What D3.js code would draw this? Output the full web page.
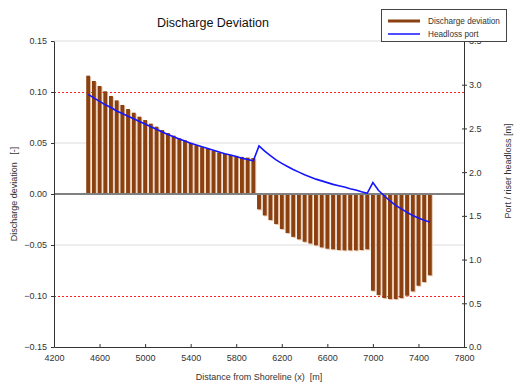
<!DOCTYPE html>
<html><head><meta charset="utf-8">
<script src="https://cdn.jsdelivr.net/npm/d3@7/dist/d3.min.js"></script>
<style>
body{margin:0;background:#fff;}
svg{display:block;font-family:"Liberation Sans",Arial,sans-serif;}
text{white-space:pre;}
</style></head>
<body><svg id="c" width="518" height="388"></svg>
<script>
// ---- data ----
const distances = d3.range(4500, 7501, 50);
const dischargeDeviation = [
 0.116,0.1108,0.1059,0.1007,0.0961,0.0918,0.0873,0.0833,0.0797,0.0758,
 0.0725,0.0690,0.0660,0.0627,0.0598,0.0572,0.0546,0.0526,0.0502,0.0478,
 0.0459,0.0442,0.0424,0.0407,0.0394,0.0383,0.0374,0.0364,0.0357,0.0353,
 -0.0150,-0.0210,-0.0255,-0.0294,-0.0343,-0.0382,-0.0420,-0.0444,-0.0468,-0.0485,
 -0.0503,-0.0523,-0.0536,-0.0542,-0.0549,-0.0552,-0.0552,-0.0552,-0.0549,-0.0542,
 -0.0948,-0.0990,-0.1020,-0.1030,-0.1030,-0.1020,-0.0997,-0.0954,-0.0899,-0.0863,-0.0797
];
const headlossPort = [
 2.89,2.85,2.81,2.77,2.74,2.70,2.67,2.64,2.61,2.58,
 2.55,2.52,2.49,2.46,2.43,2.405,2.38,2.355,2.33,2.31,
 2.29,2.27,2.25,2.23,2.21,2.195,2.18,2.16,2.145,2.13,
 2.30,2.24,2.19,2.14,2.10,2.065,2.03,2.00,1.97,1.945,
 1.92,1.90,1.88,1.86,1.845,1.83,1.81,1.795,1.775,1.757,
 1.88,1.79,1.73,1.67,1.62,1.58,1.54,1.505,1.475,1.45,1.43
];
const xTicks = [4200,4600,5000,5400,5800,6200,6600,7000,7400,7800];
const yLeftTicks = [-0.15,-0.10,-0.05,0.00,0.05,0.10,0.15];
const yRightTicks = [0.0,0.5,1.0,1.5,2.0,2.5,3.0,3.5];
const limitLines = [0.10,-0.10];
const gridLines = [0.15,0.05,-0.05];

const svg = d3.select("#c");
const L=54, R=464, T=41, B=347;
const x = d3.scaleLinear().domain([4200,7800]).range([L,R]);
const yL = d3.scaleLinear().domain([-0.15,0.15]).range([B,T]);
const yR = d3.scaleLinear().domain([0,3.5]).range([B,T]);

// grid
svg.selectAll(".g").data(gridLines).enter().append("line")
  .attr("x1",L).attr("x2",R).attr("y1",d=>yL(d)).attr("y2",d=>yL(d))
  .attr("stroke","#dcdcdc").attr("stroke-width",1);
svg.selectAll(".lim").data(limitLines).enter().append("line")
  .attr("x1",L).attr("x2",R).attr("y1",d=>yL(d)+0.5).attr("y2",d=>yL(d)+0.5)
  .attr("stroke","#ff2020").attr("stroke-width",1).attr("stroke-dasharray","2,2");

// bars
const bw = x(4517)-x(4483);
const bars = distances.map((d,i)=>({d, v:dischargeDeviation[i]}));
svg.selectAll(".bs").data(bars).enter().append("rect")
  .attr("x",b=>x(b.d)-bw/2+1).attr("width",bw)
  .attr("y",b=>Math.min(yL(b.v),yL(0))+1).attr("height",b=>Math.abs(yL(b.v)-yL(0)))
  .attr("fill","#e8c6ac");
svg.selectAll(".b").data(bars).enter().append("rect")
  .attr("x",b=>x(b.d)-bw/2).attr("width",bw)
  .attr("y",b=>Math.min(yL(b.v),yL(0))).attr("height",b=>Math.abs(yL(b.v)-yL(0)))
  .attr("fill","#8b4010");

// zero line
svg.append("line").attr("x1",L).attr("x2",R).attr("y1",yL(0)).attr("y2",yL(0))
  .attr("stroke","#808080").attr("stroke-width",2);

// headloss line
svg.append("path").datum(distances.map((d,i)=>[d,headlossPort[i]]))
  .attr("fill","none").attr("stroke","#1515ff").attr("stroke-width",1.6)
  .attr("d",d3.line().x(p=>x(p[0])).y(p=>yR(p[1])));

// axes
const fmt2 = d3.format(".2f"), fmt1=d3.format(".1f");
const ax = svg.append("g").attr("transform",`translate(0,${B})`)
  .call(d3.axisBottom(x).tickValues(xTicks).tickFormat(d3.format("d")).tickSizeInner(-3).tickSizeOuter(0).tickPadding(8));
const al = svg.append("g").attr("transform",`translate(${L},0)`)
  .call(d3.axisLeft(yL).tickValues(yLeftTicks).tickFormat(fmt2).tickSizeInner(3).tickSizeOuter(0).tickPadding(4));
const ar = svg.append("g").attr("transform",`translate(${R},0)`)
  .call(d3.axisRight(yR).tickValues(yRightTicks).tickFormat(fmt1).tickSizeInner(3).tickSizeOuter(0).tickPadding(2));
ar.selectAll(".tick line").attr("x1",-2);
[ax,al,ar].forEach(g=>{
  g.select(".domain").attr("stroke","#333");
  g.selectAll(".tick line").attr("stroke","#333");
  g.selectAll("text").attr("font-size",9).attr("fill","#333").attr("font-family","Liberation Sans,Arial,sans-serif");
});

// titles
svg.append("text").attr("x",213).attr("y",27).attr("text-anchor","middle")
  .attr("font-size",12.5).attr("fill","#111").text("Discharge Deviation");
svg.append("text").attr("x",(L+R)/2).attr("y",380).attr("text-anchor","middle")
  .attr("font-size",9).attr("fill","#333").text("Distance from Shoreline (x)  [m]");
svg.append("text").attr("transform",`translate(17,${(T+B)/2}) rotate(-90)`).attr("text-anchor","middle")
  .attr("font-size",9).attr("fill","#333").text("Discharge deviation   [-]");
svg.append("text").attr("transform",`translate(511,171) rotate(-90)`).attr("text-anchor","middle")
  .attr("font-size",9).attr("fill","#333").text("Port / riser headloss [m]");

// legend
const lg = svg.append("g");
lg.append("rect").attr("x",381.5).attr("y",9.5).attr("width",125).attr("height",32)
  .attr("fill","#fff").attr("stroke","#444");
lg.append("line").attr("x1",388).attr("x2",420).attr("y1",21).attr("y2",21)
  .attr("stroke","#8b4010").attr("stroke-width",3);
lg.append("line").attr("x1",388).attr("x2",420).attr("y1",34).attr("y2",34)
  .attr("stroke","#1515ff").attr("stroke-width",1.5);
lg.append("text").attr("x",428).attr("y",24).attr("font-size",8.2).attr("fill","#333").text("Discharge deviation");
lg.append("text").attr("x",428).attr("y",37).attr("font-size",8.2).attr("fill","#333").text("Headloss port");
</script></body></html>
